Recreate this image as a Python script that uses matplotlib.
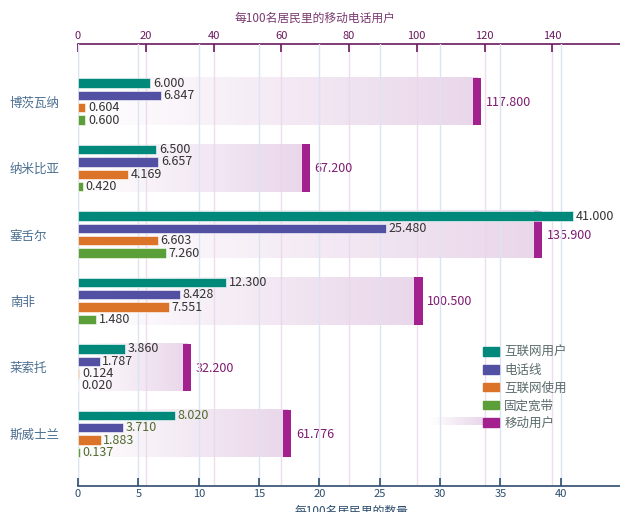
import matplotlib
matplotlib.use("Agg")
import matplotlib.pyplot as plt
import numpy as np
from matplotlib.colors import LinearSegmentedColormap
from matplotlib.patches import Patch

plt.rcParams['font.family'] = ['Noto Sans CJK SC', 'DejaVu Sans']

# ── data ──────────────────────────────────────────────────────────────
countries      = ['博茨瓦纳', '纳米比亚', '塞舌尔', '南非', '莱索托', '斯威士兰']
internet_users = [6.000, 6.500, 41.000, 12.300, 3.860, 8.020]
phone_lines    = [6.847, 6.657, 25.480, 8.428, 1.787, 3.710]
internet_usage = [0.604, 4.169, 6.603, 7.551, 0.124, 1.883]
broadband      = [0.600, 0.420, 7.260, 1.480, 0.020, 0.137]
mobile         = [117.800, 67.200, 135.900, 100.500, 32.200, 61.776]

series_names  = ['互联网用户', '电话线', '互联网使用', '固定宽带']
series_colors = ['#00897a', '#5150a2', '#db7428', '#5a9f37']
mobile_name   = '移动用户'
mobile_color  = '#a3218e'
label_colors  = ['#333333'] * 5 + ['#4e6b2c']

bottom_ticks = [0, 5, 10, 15, 20, 25, 30, 35, 40]
top_ticks    = [0, 20, 40, 60, 80, 100, 120, 140]

# ── figure ────────────────────────────────────────────────────────────
fig = plt.figure(figsize=(6.2, 5.12), dpi=100)
ax = fig.add_axes([78 / 620, 1 - 486 / 512, 542 / 620, 442 / 512])
ax2 = ax.twiny()
ax.set_zorder(ax2.get_zorder() + 1)
ax.patch.set_visible(False)

band_cmap = LinearSegmentedColormap.from_list(
    'band', [(0.914, 0.843, 0.918, 0.0), (0.914, 0.843, 0.918, 1.0)])
grad = np.linspace(0, 1, 256).reshape(1, -1)

step, bar_h, band_h = 0.1855, 0.14, 0.71
y = np.arange(len(countries))

# mobile subscriptions on the top axis (drawn behind)
for i, val in enumerate(mobile):
    ax2.imshow(grad, cmap=band_cmap, aspect='auto', interpolation='bilinear',
               extent=(0, val, y[i] + band_h / 2, y[i] - band_h / 2), zorder=1)
    ax2.barh(y[i], 2.4, left=val - 1.2, height=band_h, color=mobile_color, zorder=2)
    ax2.text(val + 2.6, y[i] + 0.01, f'{val:.3f}', va='center', ha='left',
             fontsize=9, color='#7e1a70', zorder=5)

# four series on the bottom axis
all_series = [internet_users, phone_lines, internet_usage, broadband]
for k, (vals, col) in enumerate(zip(all_series, series_colors)):
    yy = y + (k - 1.5) * step
    ax.barh(yy, vals, height=bar_h, color=col, edgecolor='white', linewidth=0.4, zorder=3)
    for i, v in enumerate(vals):
        ax.text(v + 0.22, yy[i], f'{v:.3f}', va='center', ha='left',
                fontsize=9, color=label_colors[i], zorder=4)

ax.set_xlim(0, 44.9)
ax2.set_xlim(0, 160)
ax.set_ylim(5.784, -0.867)

# ── axes styling ──────────────────────────────────────────────────────
for s in ['top', 'left', 'right']:
    ax.spines[s].set_visible(False)
for s in ['bottom', 'left', 'right']:
    ax2.spines[s].set_visible(False)
ax.spines['bottom'].set_color('#2d4d6e')
ax.spines['bottom'].set_linewidth(1.2)
ax2.spines['top'].set_color('#6b1a5e')
ax2.spines['top'].set_linewidth(1.2)

ax.set_xticks(bottom_ticks)
ax.tick_params(axis='x', direction='in', length=6, width=1.2, color='#2d4d6e',
               labelcolor='#2d4d6e', labelsize=8, pad=2.5)
ax2.set_xticks(top_ticks)
ax2.tick_params(axis='x', direction='in', length=6, width=1.2, color='#6b1a5e',
                labelcolor='#6b1a5e', labelsize=8, pad=2)

ax.set_yticks(y)
ax.set_yticklabels(countries)
ax.tick_params(axis='y', length=0, pad=49, labelsize=9, labelcolor='#4a6e90')
for lab in ax.get_yticklabels():
    lab.set_horizontalalignment('left')

ax.grid(axis='x', color='#dbe5f1', linewidth=1.0)
ax.grid(axis='y', visible=False)
ax2.grid(axis='x', color='#efdcec', linewidth=1.0)
ax.set_axisbelow(True)
ax2.set_axisbelow(True)

fig.text(315 / 620, 1 - 18 / 512, '每100名居民里的移动电话用户', ha='center', va='center',
         fontsize=8.5, color='#7a3a70')
fig.text(351 / 620, 1 - 511 / 512, '每100名居民里的数量', ha='center', va='center',
         fontsize=8.5, color='#2d4d6e')

# ── legend ────────────────────────────────────────────────────────────
handles = [Patch(color=c) for c in series_colors] + [Patch(color=mobile_color)]
leg = ax.legend(handles, series_names + [mobile_name], loc='upper left',
                bbox_to_anchor=(483 / 620, 1 - 346 / 512), bbox_transform=fig.transFigure,
                frameon=False, fontsize=9, handlelength=1.3, handleheight=0.65,
                handletextpad=0.4, labelspacing=0.38, borderpad=0, borderaxespad=0)
for t in leg.get_texts():
    t.set_color('#5a6a6a')

gax = fig.add_axes([430 / 620, 1 - 425 / 512, 53 / 620, 8 / 512])
gax.imshow(grad, cmap=band_cmap, aspect='auto', interpolation='bilinear')
gax.axis('off')

fig.savefig('out.png', dpi=100)
